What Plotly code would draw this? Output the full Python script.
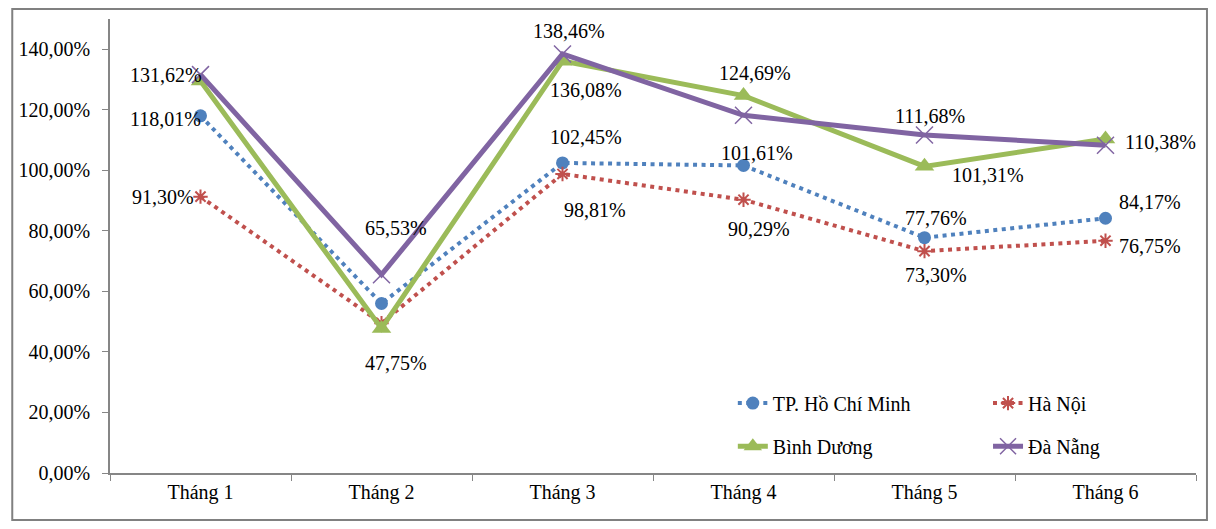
import plotly.graph_objects as go

months = ["Tháng 1", "Tháng 2", "Tháng 3", "Tháng 4", "Tháng 5", "Tháng 6"]
hcm = [118.01, 56.0, 102.45, 101.61, 77.76, 84.17]
hanoi = [91.30, 49.5, 98.81, 90.29, 73.30, 76.75]
binhduong = [129.5, 47.75, 136.08, 124.69, 101.31, 110.38]
danang = [131.62, 65.53, 138.46, 118.2, 111.68, 108.3]

names = ["TP. Hồ Chí Minh", "Hà Nội", "Bình Dương", "Đà Nẵng"]

# labelled points: (series, month index, xshift, yshift)
labels = [
    ("danang", 0, -35, 0), ("hcm", 0, -35, -3), ("hanoi", 0, -38, 0),
    ("danang", 1, 14, 47), ("binhduong", 1, 14, -35),
    ("danang", 2, 6, 23), ("binhduong", 2, 23, -29), ("hcm", 2, 23, 26), ("hanoi", 2, 32, -36),
    ("binhduong", 3, 11, 23), ("hcm", 3, 13, 12), ("hanoi", 3, 15, -29),
    ("danang", 4, 5, 19), ("binhduong", 4, 63, -9), ("hcm", 4, 11, 20), ("hanoi", 4, 11, -24),
    ("binhduong", 5, 55, -3), ("hcm", 5, 44, 16), ("hanoi", 5, 44, -5),
]

series = {"hcm": hcm, "hanoi": hanoi, "binhduong": binhduong, "danang": danang}

FONT = "Liberation Serif"
BLUE, RED, GREEN, PURPLE = "#4F81BD", "#C0504D", "#9BBB59", "#8064A2"

fig = go.Figure()
fig.add_trace(go.Scatter(
    x=months, y=[v / 100 for v in hcm], name=names[0], mode="lines+markers",
    line=dict(color=BLUE, width=4, dash="4px,4.5px"),
    marker=dict(symbol="circle", size=13, color=BLUE), legend="legend"))
fig.add_trace(go.Scatter(
    x=months, y=[v / 100 for v in hanoi], name=names[1], mode="lines+markers",
    line=dict(color=RED, width=4, dash="4px,4.5px"),
    marker=dict(symbol="asterisk-open", size=12, color=RED, line=dict(color=RED, width=2)),
    legend="legend2"))
fig.add_trace(go.Scatter(
    x=months, y=[v / 100 for v in binhduong], name=names[2], mode="lines+markers",
    line=dict(color=GREEN, width=5),
    marker=dict(symbol="triangle-up", size=17, color=GREEN), legend="legend3"))
fig.add_trace(go.Scatter(
    x=months, y=[v / 100 for v in danang], name=names[3], mode="lines+markers",
    line=dict(color=PURPLE, width=5),
    marker=dict(symbol="x-thin-open", size=17, color=PURPLE, line=dict(color=PURPLE, width=1.5)),
    legend="legend4"))

annotations = []
for key, i, dx, dy in labels:
    v = series[key][i]
    annotations.append(dict(
        x=months[i], y=v / 100, xref="x", yref="y",
        text=f"{v:.2f}".replace(".", ",") + "%", showarrow=False,
        xanchor="center", yanchor="middle", xshift=dx, yshift=dy,
        font=dict(family=FONT, size=20, color="black")))


def leg(x, y):
    return dict(orientation="h", x=x, y=y, xanchor="left", yanchor="middle",
                font=dict(family=FONT, size=20, color="black"),
                bgcolor="rgba(0,0,0,0)")


fig.update_layout(
    width=1200, height=513,
    margin=dict(l=99, r=12, t=11, b=48),
    paper_bgcolor="white", plot_bgcolor="white",
    separators=",.",
    showlegend=True,
    font=dict(family=FONT, size=20, color="black"),
    annotations=annotations,
    legend=leg(0.5735, 0.154),
    legend2=leg(0.8085, 0.154),
    legend3=leg(0.5735, 0.059),
    legend4=leg(0.8085, 0.059),
    shapes=[dict(type="rect", xref="paper", yref="paper",
                 x0=-0.09, x1=1.0101, y0=-0.1035, y1=1.022,
                 line=dict(color="#808080", width=2))],
)
fig.update_xaxes(
    type="category", range=[-0.5, 5.5], showgrid=False, showline=True,
    linecolor="#868686", linewidth=1.5, ticks="outside", tickson="boundaries",
    ticklen=6, tickcolor="#868686", tickfont=dict(family=FONT, size=20, color="black"))
fig.update_yaxes(
    range=[0, 1.5], dtick=0.2, tick0=0, tickformat=".2%", showgrid=False, showline=True,
    linecolor="#868686", linewidth=1.5, ticks="outside", ticklen=6, tickcolor="#868686",
    zeroline=False, ticklabelstandoff=8,
    tickfont=dict(family=FONT, size=20, color="black"))

fig.write_html("out.html")
